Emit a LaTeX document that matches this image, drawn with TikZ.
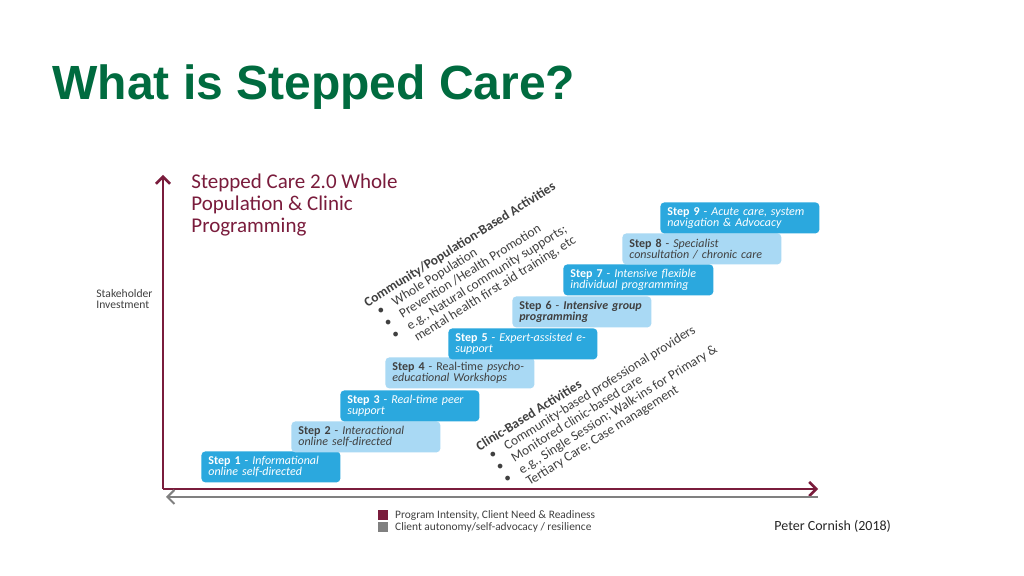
\documentclass[tikz,border=0pt]{standalone}
\usepackage{fontspec}
\setmainfont{Carlito}
\newfontfamily\titlefont{Liberation Sans}
\usetikzlibrary{arrows.meta,positioning}
\definecolor{titlegreen}{HTML}{006B3F}
\definecolor{wine}{HTML}{7A1C3C}
\definecolor{stepdark}{HTML}{2BA8DE}
\definecolor{steplight}{HTML}{A9D9F4}
\definecolor{textgray}{HTML}{404040}
\definecolor{axisgray}{HTML}{808080}

\begin{document}
\begin{tikzpicture}[%
        x=0.5pt, y=-0.5pt,
        stepbox/.style={anchor=north west, rounded corners=2pt, minimum height=15.5pt,
          inner xsep=3.5pt, inner ysep=0pt, align=left, font=\fontsize{6}{5.6}\selectfont},
        darkstep/.style={stepbox, fill=stepdark, text=white},
        lightstep/.style={stepbox, fill=steplight, text=textgray},
        slanted/.style={rotate=32, anchor=north west, align=left, inner sep=0pt,
          text=textgray, font=\fontsize{6.7}{7}\selectfont},
        axis/.style={line width=1.25pt, draw=wine, -{Straight Barb[length=3.5pt,width=7pt]}},
        key/.style={minimum size=5pt, inner sep=0pt},
        note/.style={inner sep=0pt, text=textgray}
      ]
      \fill [white] (0,0) rectangle (1024,576);
      \useasboundingbox (0,0) rectangle (1024,576);
      \node [anchor=base west, inner sep=0pt, text=titlegreen,
        font=\titlefont\bfseries\fontsize{24}{28}\selectfont] (title) at (52,100) {What is Stepped Care?};
      \node [anchor=north west, inner sep=0pt, align=left, text=wine,
        font=\fontsize{10.5}{11}\selectfont] (heading) at (191,174) {Stepped Care 2.0 Whole\\Population \& Clinic\\Programming};
      \node [note, anchor=north west, align=left, font=\fontsize{5.8}{5.4}\selectfont] (stake) at (96,289) {Stakeholder\\Investment};

      \coordinate (origin) at (163,489);
      \coordinate (ytip) at (163,175);
      \coordinate (xtip) at (818,489);
      \coordinate (gstart) at (818,497);
      \coordinate (gtip) at (166,497);
      \draw [axis] (origin) -- (ytip);
      \draw [axis] (origin) -- (xtip);
      \draw [axis, draw=axisgray, line width=1pt] (gstart) -- (gtip);

      \node [darkstep, text width=62.5pt] (s1) at (201,451) {\textbf{Step 1} - \textit{Informational}\\\textit{online self-directed}};
      \node [lightstep, text width=67.5pt] (s2) at (291,421) {\textbf{Step 2} - \textit{Interactional}\\\textit{online self-directed}};
      \node [darkstep, text width=62.5pt] (s3) at (340,390) {\textbf{Step 3} - \textit{Real-time peer}\\\textit{support}};
      \node [lightstep, text width=67.5pt] (s4) at (385,357) {\textbf{Step 4} - Real-time \textit{psycho-}\\\textit{educational Workshops}};
      \node [darkstep, text width=67.5pt] (s5) at (448,328) {\textbf{Step 5} - \textit{Expert-assisted e-}\\\textit{support}};
      \node [lightstep, text width=62.5pt] (s6) at (512,296) {\textbf{Step 6} - \textbf{\textit{Intensive group}}\\\textbf{\textit{programming}}};
      \node [darkstep, text width=68pt] (s7) at (563,264) {\textbf{Step 7} - \textit{Intensive flexible}\\\textit{individual programming}};
      \node [lightstep, text width=72.5pt] (s8) at (622,233) {\textbf{Step 8} - \textit{Specialist}\\\textit{consultation / chronic care}};
      \node [darkstep, text width=72.5pt] (s9) at (660,202) {\textbf{Step 9} - \textit{Acute care, system}\\\textit{navigation \& Advocacy}};

      \node [slanted] (community) at (362,299) {\textbf{Community/Population-Based Activities}\\
        \hspace*{3pt}\makebox[9pt][l]{\textbullet}Whole Population\\
        \hspace*{3pt}\makebox[9pt][l]{\textbullet}Prevention /Health Promotion\\
        \hspace*{3pt}\makebox[9pt][l]{\textbullet}e.g., Natural community supports;\\
        \hspace*{12pt}mental health first aid training, etc};
      \node [slanted] (clinic) at (474,443) {\textbf{Clinic-Based Activities}\\
        \hspace*{3pt}\makebox[9pt][l]{\textbullet}Community-based professional providers\\
        \hspace*{3pt}\makebox[9pt][l]{\textbullet}Monitored clinic-based care\\
        \hspace*{3pt}\makebox[9pt][l]{\textbullet}e.g., Single Session; Walk-ins for Primary \&\\
        \hspace*{12pt}Tertiary Care; Case management};

      \node [key, fill=wine, anchor=north west] (keyone) at (378,510) {};
      \node [key, fill=axisgray, below=0.5pt of keyone] (keytwo) {};
      \node [note, right=3pt of keyone, font=\fontsize{5.7}{6}\selectfont] (intensity) {Program Intensity, Client Need \& Readiness};
      \node [note, right=3pt of keytwo, font=\fontsize{5.7}{6}\selectfont] (autonomy) {Client autonomy/self-advocacy / resilience};
      \node [note, anchor=base west, text=black!85, font=\fontsize{7}{8}\selectfont] (credit) at (774,531) {Peter Cornish (2018)};
    \end{tikzpicture}
\end{document}
